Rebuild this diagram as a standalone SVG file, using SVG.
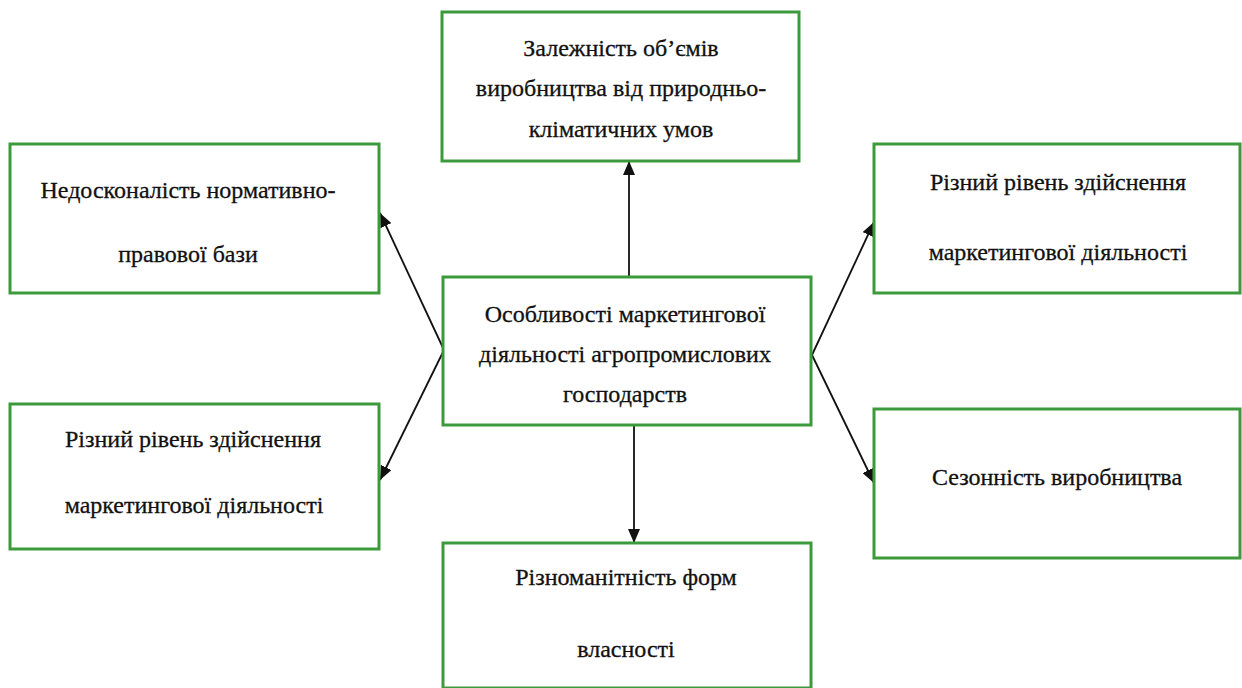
<svg xmlns="http://www.w3.org/2000/svg" width="1242" height="688" viewBox="0 0 1242 688">
<style>
.box{fill:#fff;stroke:#3c9a3c;stroke-width:3}
.t{font-family:"Liberation Serif","Times New Roman",serif;font-size:24px;fill:#111;stroke:#111;stroke-width:0.3;text-anchor:middle}
.c{stroke:#111;stroke-width:1.8;fill:none}
</style>
<defs>
<marker id="ah" viewBox="0 0 14 12" refX="14" refY="6" markerWidth="14" markerHeight="12" markerUnits="userSpaceOnUse" orient="auto">
<path d="M0,0 L14,6 L0,12 Z" fill="#111"/>
</marker>
</defs>
<rect width="1242" height="688" fill="#fff"/>
<g id="connectors">
<line class="c" x1="629" y1="277" x2="629" y2="161" marker-end="url(#ah)"/>
<line class="c" x1="634" y1="425" x2="634" y2="543" marker-end="url(#ah)"/>
<line class="c" x1="444" y1="350" x2="380" y2="213" marker-end="url(#ah)"/>
<line class="c" x1="444" y1="350" x2="380" y2="480" marker-end="url(#ah)"/>
<line class="c" x1="812" y1="355" x2="874" y2="222" marker-end="url(#ah)"/>
<line class="c" x1="812" y1="355" x2="874" y2="483" marker-end="url(#ah)"/>
</g>
<g id="top">
<rect class="box" x="442" y="12" width="357" height="149"/>
<text class="t" x="621" y="56">Залежність об’ємів</text>
<text class="t" x="621" y="96">виробництва від природньо-</text>
<text class="t" x="621" y="137">кліматичних умов</text>
</g>
<g id="left1">
<rect class="box" x="10" y="144" width="369" height="149"/>
<text class="t" x="188" y="198">Недосконалість нормативно-</text>
<text class="t" x="188" y="262">правової бази</text>
</g>
<g id="left2">
<rect class="box" x="10" y="404" width="369" height="145"/>
<text class="t" x="193" y="447">Різний рівень здійснення</text>
<text class="t" x="194" y="513">маркетингової діяльності</text>
</g>
<g id="center">
<rect class="box" x="443" y="277" width="368" height="148"/>
<text class="t" x="625" y="322">Особливості маркетингової</text>
<text class="t" x="625" y="362">діяльності агропромислових</text>
<text class="t" x="625" y="402">господарств</text>
</g>
<g id="bottom">
<rect class="box" x="443" y="543" width="368" height="145"/>
<text class="t" x="626" y="585">Різноманітність форм</text>
<text class="t" x="626" y="657">власності</text>
</g>
<g id="right1">
<rect class="box" x="874" y="144" width="366" height="149"/>
<text class="t" x="1058" y="190">Різний рівень здійснення</text>
<text class="t" x="1058" y="260">маркетингової діяльності</text>
</g>
<g id="right2">
<rect class="box" x="874" y="409" width="366" height="149"/>
<text class="t" x="1057" y="485">Сезонність виробництва</text>
</g>
</svg>
